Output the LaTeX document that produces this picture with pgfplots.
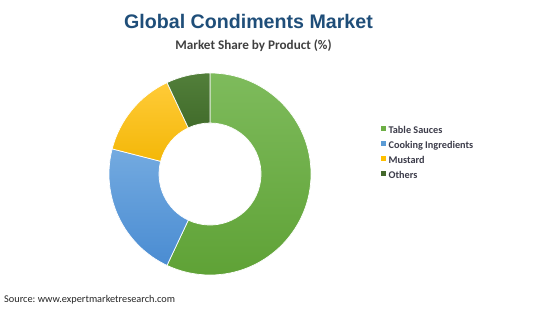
\documentclass[border=0pt]{standalone}
\usepackage{pgfplots}
\pgfplotsset{compat=1.18}
\usepackage{pgfplotstable}
\usepackage{fontspec}
\setmainfont{Carlito}
\newfontfamily\arialfont{Liberation Sans}
\definecolor{titleblue}{HTML}{1F4E79}
\definecolor{subgray}{HTML}{404040}
\definecolor{leggray}{HTML}{3C3C4A}
\definecolor{tsauceT}{HTML}{7EBB5C}
\definecolor{tsauceB}{HTML}{5FA236}
\definecolor{tsauce}{HTML}{6DAF46}
\definecolor{cookT}{HTML}{73AAE0}
\definecolor{cookB}{HTML}{4A8CD2}
\definecolor{cook}{HTML}{5B9BD5}
\definecolor{mustT}{HTML}{FFCB38}
\definecolor{mustB}{HTML}{F2B400}
\definecolor{must}{HTML}{FFC000}
\definecolor{othT}{HTML}{527F3A}
\definecolor{othB}{HTML}{335B1E}
\definecolor{oth}{HTML}{43682B}

\pgfplotstableread{
product share
TableSauces 57
CookingIngredients 22
Mustard 14
Others 7
}\shares
\pgfplotstablegetelem{0}{share}\of\shares \let\sA\pgfplotsretval
\pgfplotstablegetelem{1}{share}\of\shares \let\sB\pgfplotsretval
\pgfplotstablegetelem{2}{share}\of\shares \let\sC\pgfplotsretval
\pgfplotstablegetelem{3}{share}\of\shares \let\sD\pgfplotsretval
\pgfmathsetmacro\aZ{90}
\pgfmathsetmacro\aA{\aZ-3.6*\sA}
\pgfmathsetmacro\aB{\aA-3.6*\sB}
\pgfmathsetmacro\aC{\aB-3.6*\sC}
\pgfmathsetmacro\aD{\aC-3.6*\sD}

% #1 start angle, #2 end angle, #3 top colour, #4 bottom colour
\newcommand\slice[4]{%
  \path[top color=#3, bottom color=#4, draw=white, line width=0.7pt]
    (axis cs:210,135) ++(#1:101bp) arc[start angle=#1, end angle=#2, radius=101bp]
    -- ++(#2+180:50bp) arc[start angle=#2, end angle=#1, radius=51bp] -- cycle;}
\newcommand\legsq[1]{\addlegendimage{legend image code/.code={\fill[#1] (0bp,0.9bp) rectangle (4bp,4.9bp);}}}

\begin{document}
\frenchspacing
\begin{tikzpicture}
\begin{axis}[
  width=550bp, height=309bp, scale only axis,
  xmin=0, xmax=550, ymin=0, ymax=309,
  hide axis, clip=false,
  legend style={at={(axis cs:381,183.5)}, anchor=north west, draw=none, fill=none,
    inner sep=0pt, row sep=5bp,
    font=\fontsize{10.3}{12}\selectfont\bfseries\color{leggray},
    nodes={inner sep=0pt, text height=7.5bp, text depth=2.5bp},
    /tikz/every odd column/.append style={column sep=3bp}},
  legend cell align=left,
]
\legsq{tsauce}\addlegendentry{Table Sauces}
\legsq{cook}\addlegendentry{Cooking Ingredients}
\legsq{must}\addlegendentry{Mustard}
\legsq{oth}\addlegendentry{Others}

\path (axis cs:0,0) rectangle (axis cs:550,309);

\slice{\aZ}{\aA}{tsauceT}{tsauceB}
\slice{\aA}{\aB}{cookT}{cookB}
\slice{\aB}{\aC}{mustT}{mustB}
\slice{\aC}{\aD}{othT}{othB}

\node[font=\arialfont\bfseries\fontsize{19.7}{22}\selectfont, text=titleblue] at (axis cs:248.5,288) {Global Condiments Market};
\node[font=\bfseries\fontsize{13.2}{15}\selectfont, text=subgray] at (axis cs:253.5,263) {Market Share by Product (\%)};
\node[font=\fontsize{10.35}{12}\selectfont, text=black!85, anchor=west, inner sep=0pt] at (axis cs:4,9) {Source: www.expertmarketresearch.com};
\end{axis}
\end{tikzpicture}
\end{document}
